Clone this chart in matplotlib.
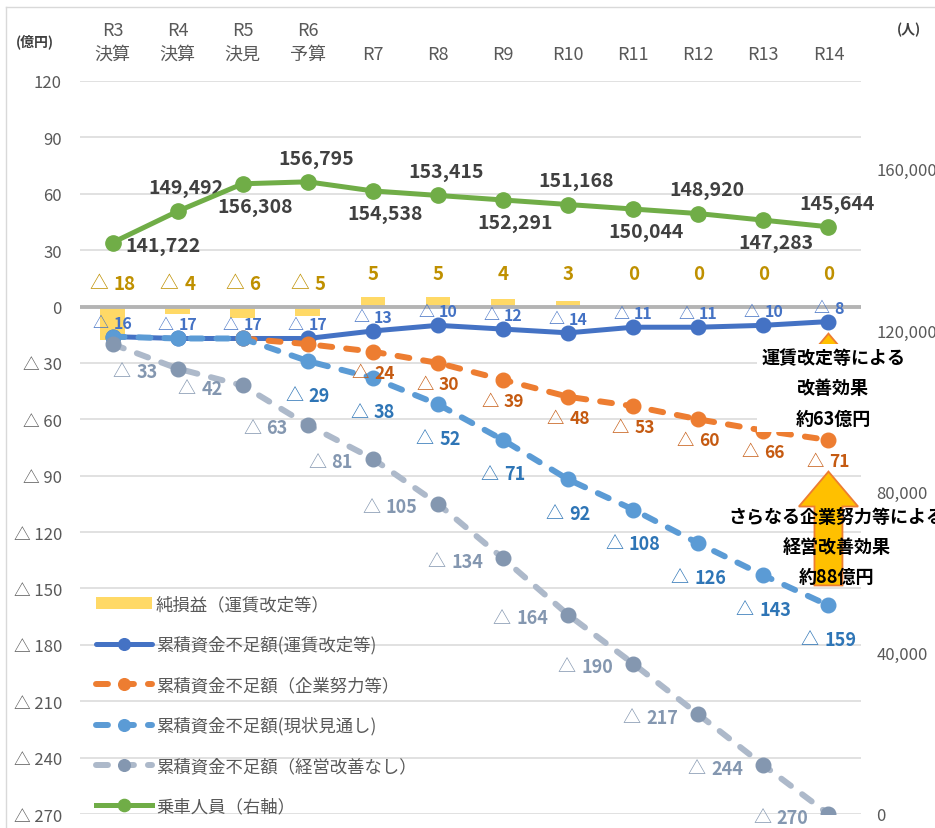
import matplotlib.pyplot as plt
import numpy as np
from matplotlib.patches import FancyArrow
from matplotlib.lines import Line2D
from matplotlib.textpath import TextToPath
from matplotlib.font_manager import FontProperties

FONT = ['Noto Sans CJK JP', 'DejaVu Sans']
plt.rcParams['font.family'] = FONT

# data
years = ['R3\n決算', 'R4\n決算', 'R5\n決見', 'R6\n予算', 'R7', 'R8', 'R9', 'R10', 'R11', 'R12', 'R13', 'R14']
net_profit = [-18, -4, -6, -5, 5, 5, 4, 3, 0, 0, 0, 0]
deficit_fare = [-16, -17, -17, -17, -13, -10, -12, -14, -11, -11, -10, -8]
deficit_effort = [np.nan, np.nan, -17, -20, -24, -30, -39, -48, -53, -60, -66, -71]
deficit_current = [-16, -17, -17, -29, -38, -52, -71, -92, -108, -126, -143, -159]
deficit_none = [-20, -33, -42, -63, -81, -105, -134, -164, -190, -217, -244, -270]
passengers = [141722, 149492, 156308, 156795, 154538, 153415, 152291, 151168, 150044, 148920, 147283, 145644]

series_names = ['純損益（運賃改定等）', '累積資金不足額(運賃改定等)', '累積資金不足額（企業努力等）',
                '累積資金不足額(現状見通し)', '累積資金不足額（経営改善なし）', '乗車人員（右軸）']

GRAY_TXT = '#595959'
x = np.arange(len(years))

fig = plt.figure(figsize=(9.35, 8.29), dpi=100)
W, H = 935, 829
ax = fig.add_axes([80 / W, 14 / H, 781 / W, 733 / H])
ax2 = ax.twinx()

ax.set_xlim(-0.5, len(years) - 0.5)
ax.set_ylim(-270, 120)
ax2.set_ylim(0, 181800)

for a in (ax, ax2):
    for s in a.spines.values():
        s.set_visible(False)

# axes / ticks
ax.xaxis.tick_top()
ax.set_xticks(x)
ax.set_xticklabels(years, linespacing=1.45)
ax.tick_params(axis='x', length=0, pad=13, labelsize=13, colors=GRAY_TXT)
ax.set_yticks(np.arange(-270, 121, 30))
ax.set_yticklabels(['0' if v == 0 else (f'△ {-v}' if v < 0 else f'{v}') for v in np.arange(-270, 121, 30)])
ax.tick_params(axis='y', length=0, pad=13, labelsize=12, colors=GRAY_TXT)
ax.yaxis.grid(True, color='#D9D9D9', lw=1.1)
ax.set_axisbelow(True)
ax.axhline(0, color='#B4B4B4', lw=2.8, zorder=2.5)

ax2.set_yticks([0, 40000, 80000, 120000, 160000])
ax2.set_yticklabels([f'{v:,}' for v in [0, 40000, 80000, 120000, 160000]])
ax2.tick_params(axis='y', length=0, pad=11, labelsize=12, colors=GRAY_TXT)

# bars and lines
bars = ax.bar(x, net_profit, width=0.38, color='#FFD966', zorder=2, label=series_names[0])

dash = (0, (2.0, 2.35))
l1, = ax.plot(x, deficit_fare, color='#4472C4', lw=3.6, marker='o', ms=10.5, zorder=4,
              solid_capstyle='round', label=series_names[1])
l2, = ax.plot(x, deficit_effort, color='#ED7D31', lw=4.3, ls=dash, dash_capstyle='round',
              marker='o', ms=10.5, zorder=5, label=series_names[2])
l3, = ax.plot(x, deficit_current, color='#5B9BD5', lw=4.3, ls=dash, dash_capstyle='round',
              marker='o', ms=10.5, zorder=6, label=series_names[3])
l4, = ax.plot(x, deficit_none, color='#ADB9CA', lw=4.3, ls=dash, dash_capstyle='round',
              marker='o', ms=10.5, mfc='#8497B0', mec='#8497B0', zorder=7, label=series_names[4])
l5, = ax2.plot(x, passengers, color='#70AD47', lw=3.6, marker='o', ms=11, zorder=4,
               label=series_names[5])

# data labels
tt = TextToPath()
PX = 72 / 100


def text_w(s, size, weight):
    fp = FontProperties(family=FONT, size=size, weight=weight)
    return tt.get_text_width_height_descent(s, fp, ismath=False)[0]


def tri_label(a, xi, yi, v, color, size, dx, dy, ha='center'):
    num = f'{abs(v)}'
    wn = text_w(num, size, 'bold')
    if v < 0:
        wt = text_w('△', size, 'normal')
        gap = 0.3 * size
    else:
        wt, gap = 0, 0
    total = wt + gap + wn
    if ha == 'center':
        left = dx * PX - total / 2
    elif ha == 'right':
        left = dx * PX - total
    else:
        left = dx * PX
    oy = -dy * PX
    if v < 0:
        a.annotate('△', (xi, yi), xytext=(left, oy), textcoords='offset points', ha='left',
                   va='center', fontsize=size, color=color, zorder=9)
    a.annotate(num, (xi, yi), xytext=(left + wt + gap, oy), textcoords='offset points',
               ha='left', va='center', fontsize=size, color=color, fontweight='bold', zorder=9)


for i, v in enumerate(net_profit):
    tri_label(ax, x[i], 17.5 if v >= 0 else 12.5, v, '#BF9000', 13.5, 0, 0)
for i, v in enumerate(deficit_fare):
    tri_label(ax, x[i], v, v, '#4472C4', 11.5, 0, -14)
for i, v in enumerate(deficit_effort):
    if i >= 4:
        tri_label(ax, x[i], v, v, '#C55A11', 12.5, 0, 21)
for i, v in enumerate(deficit_current):
    if i >= 3:
        tri_label(ax, x[i], v, v, '#2E75B6', 13, 0, 34)
for i, v in enumerate(deficit_none):
    if i >= 1:
        tri_label(ax, x[i], v, v, '#8497B0', 13, -20, 3, ha='right')

green_pos = ['right'] + ['above' if i % 2 else 'below' for i in range(1, len(passengers))]
for i, (v, p) in enumerate(zip(passengers, green_pos)):
    if p == 'right':
        off, ha = (9, -2), 'left'
    elif p == 'above':
        off, ha = (6, 17), 'center'
    else:
        off, ha = (9, -16), 'center'
    ax2.annotate(f'{v:,}', (x[i], v), xytext=off, textcoords='offset points', ha=ha,
                 va='center', fontsize=14, fontweight='bold', color='#404040')

# improvement arrows and notes
ax.add_patch(FancyArrow(11, -148.4, 0, 60.6, width=0.43, head_width=0.91, head_length=18.6,
                        length_includes_head=True, fc='#FFC000', ec='#ED7D31', lw=1.3, zorder=8))
ax.add_patch(FancyArrow(11, -64, 0, 49.6, width=0.43, head_width=0.91, head_length=18.6,
                        length_includes_head=True, fc='#FFC000', ec='#ED7D31', lw=1.3, zorder=8,
                        clip_on=False))
ax.text(11.07, -43.3, '運賃改定等による\n改善効果\n約63億円', ha='center', va='center', fontsize=13,
        fontweight='bold', linespacing=1.78, color='black', zorder=10,
        bbox=dict(fc='white', ec='none', pad=3))
ax.text(11.12, -127.6, 'さらなる企業努力等による\n経営改善効果\n約88億円', ha='center', va='center',
        fontsize=13, fontweight='bold', linespacing=1.72, color='black', zorder=10, clip_on=False)

# unit labels
fig.text(35 / W, 1 - 42 / H, '(億円)', ha='center', va='center', fontsize=10, fontweight='bold', color='#404040')
fig.text(909 / W, 1 - 30 / H, '(人)', ha='center', va='center', fontsize=10, fontweight='bold', color='#404040')

# legend
leg = ax.legend([bars, l1, l2, l3, l4, l5], series_names, loc='upper left',
                bbox_to_anchor=(96 / W, 1 - 596 / H), bbox_transform=fig.transFigure,
                frameon=False, fontsize=12.5, labelcolor=GRAY_TXT, handlelength=3.2,
                handletextpad=0.25, labelspacing=1.28, borderpad=0, borderaxespad=0,
                markerscale=0.8)
leg.set_zorder(3)

# chart border
fig.add_artist(Line2D([6 / W, 1], [1 - 8 / H, 1 - 8 / H], transform=fig.transFigure, color='#D9D9D9', lw=1))
fig.add_artist(Line2D([6 / W, 6 / W], [0, 1 - 8 / H], transform=fig.transFigure, color='#D9D9D9', lw=1))

fig.savefig('out.png', dpi=100)
